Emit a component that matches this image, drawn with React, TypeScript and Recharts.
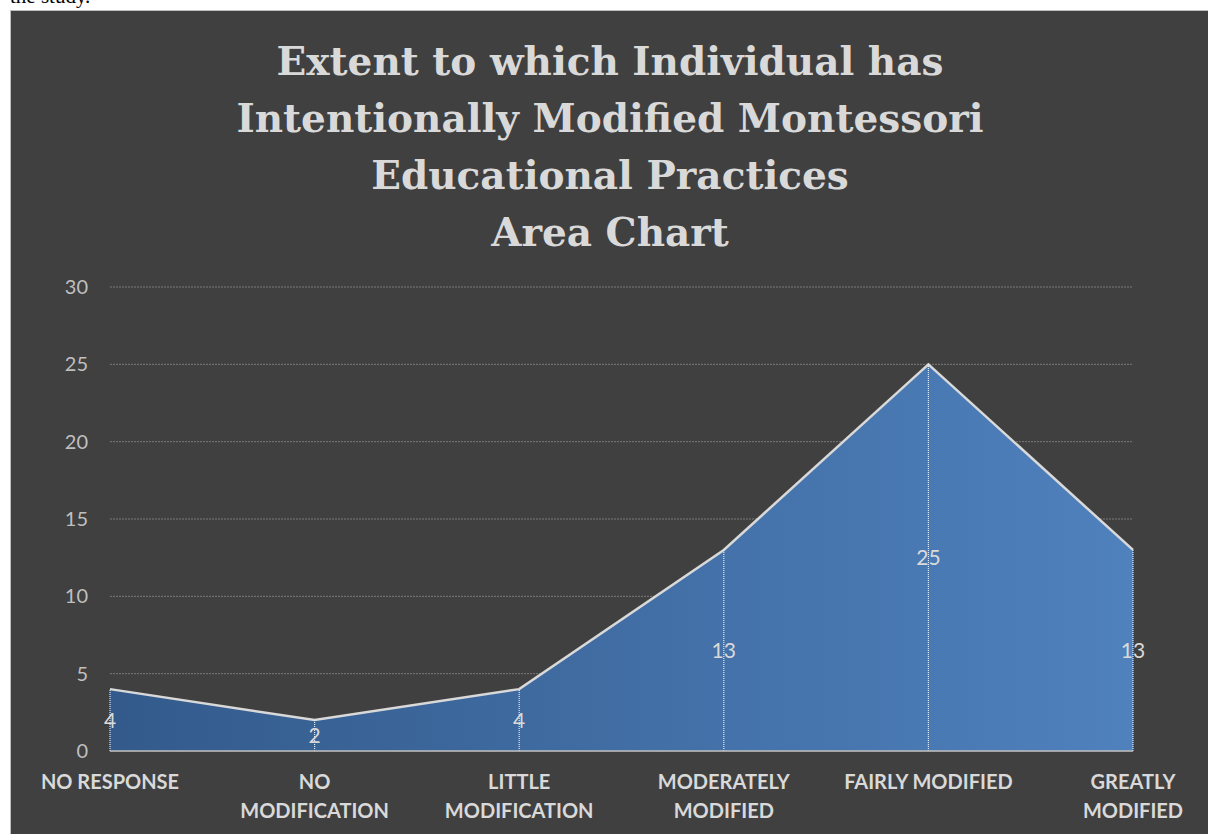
import { AreaChart, Area, XAxis, YAxis, CartesianGrid, ReferenceLine, ReferenceDot } from 'recharts';

const categories = ['NO RESPONSE', 'NO MODIFICATION', 'LITTLE MODIFICATION', 'MODERATELY MODIFIED', 'FAIRLY MODIFIED', 'GREATLY MODIFIED'];
const counts = [4, 2, 4, 13, 25, 13];
const tickLabels = [['NO RESPONSE'], ['NO', 'MODIFICATION'], ['LITTLE', 'MODIFICATION'], ['MODERATELY', 'MODIFIED'], ['FAIRLY MODIFIED'], ['GREATLY', 'MODIFIED']];
const yTicks = [0, 5, 10, 15, 20, 25, 30];
const titleLines = ['Extent to which Individual has', 'Intentionally Modified Montessori', 'Educational Practices', 'Area Chart'];

const data = categories.map((name, i) => ({ name, value: counts[i] }));

const labelFont = 'Lato, "Open Sans", sans-serif';

function CategoryTick(props: any) {
  const { x, y, payload } = props;
  const lines = tickLabels[payload.index] || [payload.value];
  return (
    <text x={x} y={y} textAnchor="middle" fill="#d9d9d9" fontSize={20} fontWeight={700} fontFamily={labelFont}>
      {lines.map((l, i) => (
        <tspan key={i} x={x} dy={i === 0 ? 30 : 29}>{l}</tspan>
      ))}
    </text>
  );
}

export default function App() {
  return (
    <div style={{ position: 'absolute', left: 0, top: 0, width: 1208, height: 834, background: '#fff', overflow: 'hidden' }}>
      <div style={{ position: 'absolute', left: 10, top: -16, fontFamily: '"Liberation Serif", serif', fontSize: 21, color: '#000' }}>the study.</div>
      <div style={{ position: 'absolute', left: 10, top: 10, width: 1198, height: 824, background: '#404040', borderLeft: '1px solid #bfbfbf', borderTop: '1px solid #bfbfbf', boxSizing: 'border-box' }}>
        <div style={{ position: 'absolute', left: 0, top: 22, width: 1198, textAlign: 'center', fontFamily: '"DejaVu Serif", serif', fontWeight: 700, fontSize: 39, lineHeight: '57px', color: '#d9d9d9' }}>
          {titleLines.map((t, i) => <div key={i}>{t}</div>)}
        </div>
        <div style={{ position: 'absolute', left: -1, top: -1 }}>
          <AreaChart width={1198} height={824} data={data} margin={{ top: 277, right: 75, bottom: 13, left: 40 }}>
            <defs>
              <linearGradient id="areaFill" x1="0" y1="0" x2="1" y2="0">
                <stop offset="0%" stopColor="#335a8b" />
                <stop offset="100%" stopColor="#4f81bd" />
              </linearGradient>
            </defs>
            <CartesianGrid vertical={false} stroke="#7a7a7a" strokeDasharray="2 1" />
            <XAxis dataKey="name" tick={<CategoryTick />} tickLine={false} axisLine={{ stroke: '#bfbfbf', strokeWidth: 1.5 }} height={70} interval={0} />
            <YAxis domain={[0, 30]} ticks={yTicks} tickLine={false} axisLine={false} width={60} tickMargin={16} tick={{ fill: '#bfbfbf', fontSize: 20, fontFamily: labelFont }} />
            <Area type="linear" dataKey="value" stroke="#d9d9d9" strokeWidth={2.5} fill="url(#areaFill)" fillOpacity={1} isAnimationActive={false} dot={false} activeDot={false} />
            {data.map((d) => (
              <ReferenceLine key={'l' + d.name} segment={[{ x: d.name, y: 0 }, { x: d.name, y: d.value }]} stroke="#e6ecf5" strokeWidth={1.2} strokeDasharray="1 1" />
            ))}
            {data.map((d) => (
              <ReferenceDot key={'d' + d.name} x={d.name} y={d.value / 2} r={0} fill="none" stroke="none"
                label={{ value: d.value, position: 'center', fill: '#d9d9d9', fontSize: 21, fontFamily: labelFont }} />
            ))}
          </AreaChart>
        </div>
      </div>
    </div>
  );
}
